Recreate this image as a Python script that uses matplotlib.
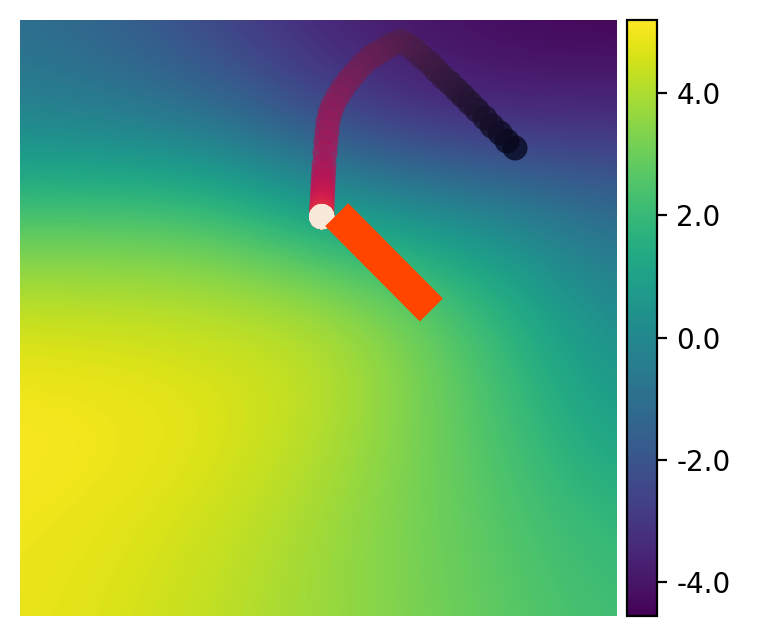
import numpy as np
import matplotlib
matplotlib.use("Agg")
import matplotlib.pyplot as plt
import seaborn as sns

# field values sampled on a 7x7 grid (rows top -> bottom, cols left -> right)
field = np.array([
    [-1.04, -1.63, -2.70, -3.58, -4.06, -4.36, -4.55],
    [-0.26, -0.56, -1.04, -2.41, -3.38, -3.58, -3.38],
    [2.56, 2.66, 2.46, 1.29, 0.61, -0.07, -1.04],
    [4.51, 4.41, 4.31, 4.22, 3.24, 1.68, 0.03],
    [5.19, 5.09, 4.80, 4.22, 3.24, 2.17, 0.81],
    [5.00, 4.80, 4.41, 3.83, 3.14, 2.46, 1.78],
    [4.90, 4.61, 4.22, 3.73, 3.24, 2.66, 2.17],
])
width, height = 597, 596
vmin, vmax = -4.55, 5.19
cbar_ticks = [-4, -2, 0, 2, 4]

# agent trajectory (time ordered), slows down near the goal
traj_x = [495, 487, 480, 472, 465, 457, 450, 443, 437, 430, 423, 416, 410, 402, 395, 388, 380,
          371, 363, 356, 350, 342, 335, 329, 323, 318, 313, 310, 308, 307, 306, 305, 304,
          303.6, 303.2, 302.9, 302.6, 302.4, 302.2, 302.0, 301.9, 301.8, 301.8, 301.75, 301.7]
traj_y = [128, 121, 113, 106, 98, 90, 83, 76, 70, 63, 57, 50, 43, 37, 30, 25, 21,
          25, 30, 34, 38, 45, 53, 60, 68, 76, 85, 93, 102, 112, 122, 133, 145,
          153, 160, 166, 171, 176, 180, 184, 187, 190, 192.5, 194.5, 195.8]
end_x, end_y = 301.7, 196.7
hold_steps = 32

# heading bar
bar_x = [316.7, 411.3]
bar_y = [194.7, 290.0]

xs = np.array(traj_x + [end_x] * hold_steps)
ys = np.array(traj_y + [end_y] * hold_steps)
colors = sns.color_palette("rocket", as_cmap=True)(np.linspace(0, 1, len(xs)))

fig = plt.figure(figsize=(3.81, 3.185), dpi=200)
ax = fig.add_axes([0.02625, 0.033, 0.7835, 0.9356])
cax = fig.add_axes([0.8228, 0.033, 0.03937, 0.9356])

nx, ny = field.shape[1], field.shape[0]
dx = width / (nx - 1)
dy = height / (ny - 1)
im = ax.imshow(field, cmap="viridis", vmin=vmin, vmax=vmax, interpolation="bicubic",
               extent=[-dx / 2, width + dx / 2, height + dy / 2, -dy / 2])
ax.set_xlim(0, width)
ax.set_ylim(height, 0)

ax.scatter(xs, ys, c=colors, s=81, edgecolors="none", alpha=0.75, zorder=3)
ax.plot(bar_x, bar_y, color="#FF4500", lw=11.7, solid_capstyle="butt", zorder=4)
ax.axis("off")

cb = fig.colorbar(im, cax=cax, ticks=cbar_ticks, format="%.1f")

plt.savefig("out.png", dpi=200)
